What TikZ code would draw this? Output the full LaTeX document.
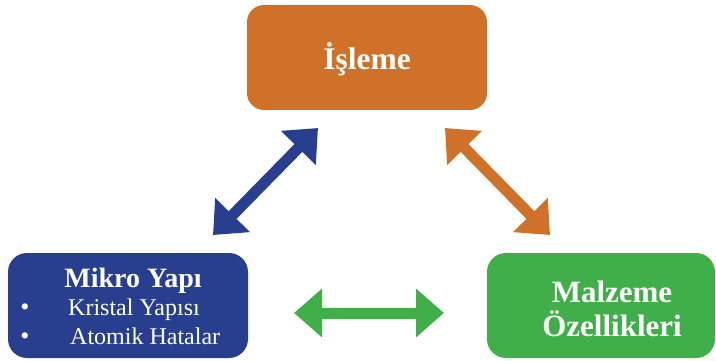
\documentclass[tikz,border=0pt]{standalone}
\usepackage{fontspec}
\setmainfont{Liberation Serif}
\usetikzlibrary{arrows.meta}
\definecolor{orng}{HTML}{CF7128}
\definecolor{blu}{HTML}{273F8E}
\definecolor{grn}{HTML}{40AE49}
\begin{document}
\begin{tikzpicture}[x=1pt,y=-1pt,
  box/.style={rectangle, inner sep=0pt, draw=none},
  txt/.style={text=white, inner sep=0pt, anchor=base},
  fat/.style={line width=11pt, {Triangle[length=28pt,width=47pt]}-{Triangle[length=28pt,width=47pt]}}]
\useasboundingbox (0,0) rectangle (716,361);
% boxes
\node[box, fill=orng, rounded corners=17pt, minimum width=240pt, minimum height=105pt] (isleme) at (367,57.5) {};
\node[box, fill=blu, rounded corners=19pt, minimum width=240pt, minimum height=105pt] (mikro) at (128,305.5) {};
\node[box, fill=grn, rounded corners=19pt, minimum width=228pt, minimum height=105pt] (malz) at (601,305.5) {};
% texts
\node[txt, font=\bfseries\fontsize{31.5}{31.5}\selectfont] (t1) at (367,70) {İşleme};
\node[txt, font=\bfseries\fontsize{28}{28}\selectfont] (t2) at (133,287) {Mikro Yapı};
\node[txt, font=\fontsize{24}{24}\selectfont, anchor=base west] (t3) at (68,315) {Kristal Yapısı};
\node[txt, font=\fontsize{24}{24}\selectfont, anchor=base west] (t4) at (70,344) {Atomik Hatalar};
\node[txt, font=\fontsize{26}{26}\selectfont] (b1) at (25,315) {•};
\node[txt, font=\fontsize{26}{26}\selectfont] (b2) at (25,344) {•};
\node[txt, font=\bfseries\fontsize{31}{31}\selectfont] (t5) at (612,302) {Malzeme};
\node[txt, font=\bfseries\fontsize{31}{31}\selectfont] (t6) at (612,336) {Özellikleri};
% arrows
\coordinate (ba) at (213,235);
\coordinate (bb) at (318,128);
\coordinate (oa) at (445,128);
\coordinate (ob) at (550,235);
\coordinate (ga) at (294,313);
\coordinate (gb) at (444,313);
\draw[fat, blu] (ba) -- (bb);
\draw[fat, orng] (oa) -- (ob);
\draw[fat, grn] (ga) -- (gb);
\end{tikzpicture}
\end{document}
